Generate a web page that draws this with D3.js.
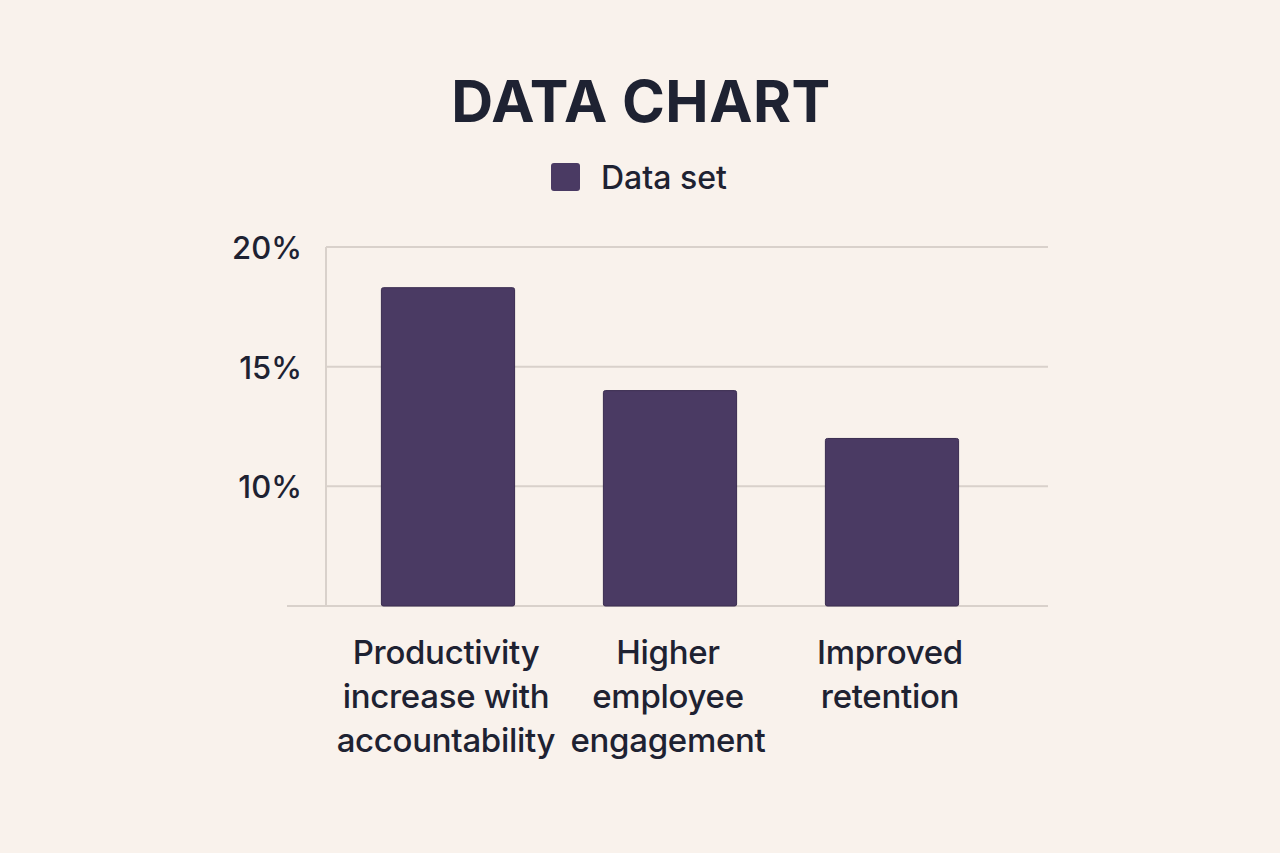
<!DOCTYPE html>
<html>
<head>
<meta charset="utf-8">
<script src="https://cdn.jsdelivr.net/npm/d3@7"></script>
<style>
  html, body { margin: 0; padding: 0; background: #f8f1ea; }
  svg { display: block; }
</style>
</head>
<body>
<svg id="chart" width="1280" height="853"></svg>
<script>
const categories = [
  ["Productivity", "increase with", "accountability"],
  ["Higher", "employee", "engagement"],
  ["Improved", "retention"]
];
const categoryKeys = ["Productivity increase with accountability", "Higher employee engagement", "Improved retention"];
const values = [18.3, 14.0, 12.0];
const tickValues = [10, 15, 20];
const seriesName = "Data set";
const title = "DATA CHART";

const svg = d3.select("#chart");
const W = 1280, H = 853;
const barColor = "#4a3a63";
const textColor = "#1e2232";
const gridColor = "#d9d1cb";
const font = "Inter, 'Noto Sans', sans-serif";

svg.append("rect").attr("width", W).attr("height", H).attr("fill", "#f9f2ec");

const x = d3.scaleBand().domain(categoryKeys).range([337, 1003]).paddingInner(0.4).paddingOuter(0.2);
const y = d3.scaleLinear().domain([5, 20]).range([606, 247]);

// gridlines
svg.append("g").selectAll("line").data(tickValues).join("line")
  .attr("x1", 326).attr("x2", 1048)
  .attr("y1", d => y(d)).attr("y2", d => y(d))
  .attr("stroke", gridColor).attr("stroke-width", 2);

// y axis line
svg.append("line").attr("x1", 326).attr("x2", 326).attr("y1", y(20)).attr("y2", y(5))
  .attr("stroke", gridColor).attr("stroke-width", 2);

// baseline
svg.append("line").attr("x1", 287).attr("x2", 1048).attr("y1", y(5)).attr("y2", y(5))
  .attr("stroke", gridColor).attr("stroke-width", 2);

// tick labels
svg.append("g").selectAll("text").data(tickValues).join("text")
  .attr("x", 302).attr("y", d => y(d) + 12)
  .attr("text-anchor", "end")
  .attr("font-family", font).attr("font-size", 31).attr("font-weight", 500)
  .attr("fill", textColor)
  .text(d => d + "%");

// bars
svg.append("g").selectAll("rect").data(values).join("rect")
  .attr("x", (d, i) => x(categoryKeys[i]))
  .attr("y", d => y(d))
  .attr("width", x.bandwidth())
  .attr("height", d => y(5) - y(d))
  .attr("rx", 2)
  .attr("fill", barColor)
  .attr("stroke", "#3a2c50").attr("stroke-width", 1);

// category labels
const lab = svg.append("g").selectAll("text").data(categories).join("text")
  .attr("text-anchor", "middle")
  .attr("font-family", font).attr("font-size", 33).attr("font-weight", 500)
  .attr("fill", textColor)
  .attr("letter-spacing", -0.3)
  .attr("x", (d, i) => x(categoryKeys[i]) + x.bandwidth() / 2 - 2)
  .attr("y", 664);
lab.selectAll("tspan").data(d => d).join("tspan")
  .attr("x", function() { return d3.select(this.parentNode).attr("x"); })
  .attr("dy", (d, i) => i === 0 ? 0 : 44)
  .text(d => d);

// title
svg.append("text").attr("x", 641).attr("y", 122).attr("text-anchor", "middle")
  .attr("font-family", font).attr("font-size", 58).attr("font-weight", 700)
  .attr("fill", textColor).attr("letter-spacing", 0.5)
  .text(title);

// legend
svg.append("rect").attr("x", 551).attr("y", 163).attr("width", 29).attr("height", 28).attr("rx", 3)
  .attr("fill", barColor);
svg.append("text").attr("x", 601).attr("y", 189)
  .attr("font-family", font).attr("font-size", 32).attr("font-weight", 500)
  .attr("fill", textColor)
  .text(seriesName);
</script>
</body>
</html>
